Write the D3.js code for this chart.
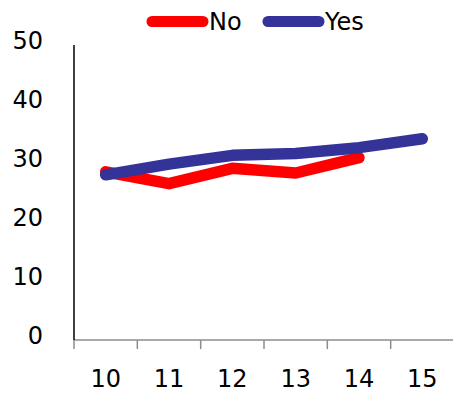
<!DOCTYPE html>
<html>
<head>
<meta charset="utf-8">
<script src="https://cdn.jsdelivr.net/npm/d3@7"></script>
<style>
  html, body { margin: 0; padding: 0; background: #fff; }
  svg { display: block; font-family: "DejaVu Sans", sans-serif; }
</style>
</head>
<body>
<div id="chart"></div>
<script>
// Categories along the x axis
const categories = ["10", "11", "12", "13", "14", "15"];
// Series values (No stops at 14)
const noValues = [28.5, 26.5, 29.1, 28.3, 30.9];
const yesValues = [28.0, 29.8, 31.3, 31.6, 32.6, 34.1];
// Y tick labels
const yTicks = [0, 10, 20, 30, 40, 50];
const seriesNames = ["No", "Yes"];
const seriesColors = ["#ff0000", "#333399"];

const width = 453, height = 394;
const margin = { left: 74, top: 45, bottom: 54 };
const plotRight = 454;
const fontSize = 24;

const svg = d3.select("#chart").append("svg")
  .attr("width", width).attr("height", height);

const x = d3.scaleBand().domain(categories).range([margin.left, plotRight]).padding(0);
const y = d3.scaleLinear().domain([0, 50]).range([height - margin.bottom, margin.top]);

// X axis: gray baseline with tick marks between categories
const xg = svg.append("g");
xg.append("line")
  .attr("x1", margin.left).attr("x2", plotRight)
  .attr("y1", y(0)).attr("y2", y(0))
  .attr("stroke", "#8c8c8c").attr("stroke-width", 1.5);
const boundaries = categories.map(c => x(c)).concat([plotRight]);
xg.selectAll("line.tick").data(boundaries).enter().append("line")
  .attr("class", "tick")
  .attr("x1", d => d).attr("x2", d => d)
  .attr("y1", y(0)).attr("y2", y(0) + 9)
  .attr("stroke", "#8c8c8c").attr("stroke-width", 1.5);
xg.selectAll("text").data(categories).enter().append("text")
  .attr("x", d => x(d) + x.bandwidth() / 2)
  .attr("y", y(0) + 47)
  .attr("text-anchor", "middle")
  .attr("font-size", fontSize)
  .attr("fill", "#000")
  .text(d => d);

// Y axis: black line and labels
svg.append("line")
  .attr("x1", margin.left).attr("x2", margin.left)
  .attr("y1", y(50)).attr("y2", y(0))
  .attr("stroke", "#000").attr("stroke-width", 1.5);
svg.append("g").selectAll("text").data(yTicks).enter().append("text")
  .attr("x", 43)
  .attr("y", d => y(d) + 4)
  .attr("text-anchor", "end")
  .attr("font-size", fontSize)
  .attr("fill", "#000")
  .text(d => d);

// Series lines
const line = d3.line()
  .x((d, i) => x(categories[i]) + x.bandwidth() / 2)
  .y(d => y(d));

[noValues, yesValues].forEach((vals, k) => {
  svg.append("path")
    .datum(vals)
    .attr("d", line)
    .attr("fill", "none")
    .attr("stroke", seriesColors[k])
    .attr("stroke-width", 11.5)
    .attr("stroke-linecap", "round")
    .attr("stroke-linejoin", "round");
});

// Legend
const legendItems = [
  { name: seriesNames[0], color: seriesColors[0], x0: 147 },
  { name: seriesNames[1], color: seriesColors[1], x0: 263 }
];
const lg = svg.append("g");
legendItems.forEach(item => {
  lg.append("line")
    .attr("x1", item.x0 + 5).attr("x2", item.x0 + 56)
    .attr("y1", 21.5).attr("y2", 21.5)
    .attr("stroke", item.color).attr("stroke-width", 11)
    .attr("stroke-linecap", "round");
  lg.append("text")
    .attr("x", item.x0 + 62)
    .attr("y", 30)
    .attr("font-size", fontSize)
    .attr("fill", "#000")
    .text(item.name);
});
</script>
</body>
</html>
